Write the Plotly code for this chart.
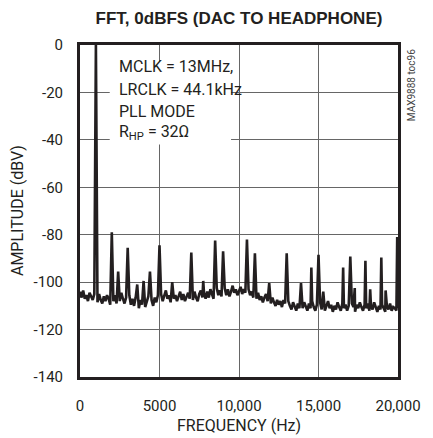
# FFT plot of DAC to headphone output, 0dBFS
import plotly.graph_objects as go

# noise floor, one value every 100 Hz from 0 to 20,000 Hz (dBV)
floor_step_hz = 100
floor_dbv = [
    -104, -106.5, -103.5, -107, -105.5, -108, -104.5, -106, -107.5, -105,
    -106, -108.5, -105, -107.5, -109, -106, -108, -105.5, -107, -109.5,
    -106, -108, -105.5, -109, -106.5, -108, -104.5, -107, -109, -106.5,
    -108, -105.5, -109.5, -107, -110, -106.5, -109, -111, -107.5, -109.5,
    -107, -110.5, -108, -106, -109.5, -107.5, -110, -106.5, -108.5, -105.5,
    -107, -105, -108, -106, -103.5, -107, -105.5, -108.5, -104.5, -107,
    -105.5, -108, -106, -104, -107.5, -105, -108, -106.5, -104.5, -107,
    -105, -107.5, -104, -106.5, -108, -105, -103.5, -106.5, -104.5, -107,
    -104, -106.5, -103, -105.5, -107, -104, -102.5, -105.5, -103.5, -106,
    -104.5, -102.5, -105.5, -103, -106, -104, -101.5, -104.5, -103, -105.5,
    -103.5, -102, -105, -103, -104.5, -106, -103, -105.5, -104, -106.5,
    -105, -107, -104.5, -107.5, -106, -108.5, -106.5, -105, -108, -107,
    -109, -106.5, -108.5, -110, -107.5, -109.5, -108, -110.5, -107.5, -109,
    -110.5, -108, -110, -111.5, -108.5, -110, -112, -109, -111, -109.5,
    -111, -108.5, -110.5, -112, -109, -111, -108, -110.5, -112, -109.5,
    -110.5, -108.5, -111.5, -109, -112, -110, -108, -111, -109.5, -112.5,
    -110, -111.5, -108.5, -110.5, -112, -109, -111, -109.5, -112, -110,
    -111.5, -109, -110.5, -112.5, -109.5, -111, -108.5, -110.5, -112, -109.5,
    -111, -109, -112, -110, -111.5, -108.5, -110.5, -112.5, -110, -111.5,
    -109.5, -111, -112.5, -110, -111.5, -109, -112, -110.5, -111, -112,
    -111,
]

# fundamental and spurs
peak_hz = [
    1000, 2000, 2400, 3000, 3600, 4000, 4400, 5000, 5800, 7000,
    7750, 8500, 9000, 10500, 11000, 11900, 13000, 13900, 14550, 15000,
    15300, 16550, 17000, 17280, 17950, 18250, 18950, 19220, 19950,
]
peak_dbv = [
    0, -79, -95.5, -85.5, -101, -99.5, -95.5, -84.5, -100, -87.5,
    -99.5, -82.5, -87, -82, -87.8, -100.4, -87.8, -100.4, -93.8, -88.5,
    -104, -93.8, -89.2, -102.5, -91, -103, -89.6, -103.5, -81,
]

x_ticks = [0, 5000, 10000, 15000, 20000]
x_tick_text = ["0", "5000", "10,000", "15,000", "20,000"]
y_ticks = [0, -20, -40, -60, -80, -100, -120, -140]

# merge floor and peaks into one spectrum
spectrum = {i * floor_step_hz: v for i, v in enumerate(floor_dbv)}
for f, v in zip(peak_hz, peak_dbv):
    spectrum[f] = v
freq = sorted(spectrum.keys())
amp = [spectrum[f] for f in freq]

FONT = "Roboto, Liberation Sans, sans-serif"
TITLE_FONT = "Liberation Sans, Arial, sans-serif"
INK = "#231f20"

fig = go.Figure()
fig.add_trace(
    go.Scatter(
        x=freq,
        y=amp,
        mode="lines",
        line=dict(color=INK, width=2.6),
        showlegend=False,
        hoverinfo="skip",
    )
)

# white box behind the conditions text
fig.add_shape(
    type="rect",
    x0=1870, x1=9500, y0=-7, y1=-42,
    xref="x", yref="y",
    fillcolor="white",
    line=dict(width=0),
    layer="above",
)

cond_lines = ["MCLK = 13MHz,", "LRCLK = 44.1kHz", "PLL MODE", "R<sub>HP</sub> = 32Ω"]
cond_y = [-9.1, -18.9, -28, -37]
for txt, yy in zip(cond_lines, cond_y):
    fig.add_annotation(
        x=2350, y=yy, xref="x", yref="y",
        text=txt, showarrow=False,
        xanchor="left", yanchor="middle",
        font=dict(family=FONT, size=16, color=INK),
    )

# axis titles and side label
fig.add_annotation(
    x=-0.198, y=0.5, xref="paper", yref="paper",
    text="AMPLITUDE (dBV)", textangle=-90, showarrow=False,
    xanchor="center", yanchor="middle",
    font=dict(family=FONT, size=16, color=INK),
)
fig.add_annotation(
    x=0.5, y=-0.145, xref="paper", yref="paper",
    text="FREQUENCY (Hz)", showarrow=False,
    xanchor="center", yanchor="middle",
    font=dict(family=FONT, size=16, color=INK),
)
fig.add_annotation(
    x=1.045, y=0.88, xref="paper", yref="paper",
    text="MAX9888 toc96", textangle=-90, showarrow=False,
    xanchor="center", yanchor="middle",
    font=dict(family=FONT, size=10, color="#444444"),
)

fig.update_xaxes(
    range=[0, 20000],
    tickvals=x_ticks,
    ticktext=x_tick_text,
    showgrid=True, gridcolor="#666666", gridwidth=1,
    zeroline=False,
    showline=True, mirror=True, linewidth=3, linecolor=INK,
    ticks="outside", ticklen=13, tickcolor="rgba(0,0,0,0)",
    ticklabeloverflow="allow",
    tickfont=dict(family=FONT, size=15, color=INK),
)
fig.update_yaxes(
    range=[-140, 0],
    tickvals=y_ticks,
    ticktext=[str(v) for v in y_ticks],
    showgrid=True, gridcolor="#666666", gridwidth=1,
    zeroline=False,
    showline=True, mirror=True, linewidth=3, linecolor=INK,
    ticks="outside", ticklen=11, tickcolor="rgba(0,0,0,0)",
    tickfont=dict(family=FONT, size=15, color=INK),
)

fig.update_layout(
    width=433,
    height=438,
    margin=dict(l=80, r=21, t=45, b=61),
    paper_bgcolor="white",
    plot_bgcolor="white",
    title=dict(
        text="<b>FFT, 0dBFS (DAC TO HEADPHONE)</b>",
        x=0.5, xref="paper", xanchor="center",
        y=1 - 18 / 438, yref="container", yanchor="middle",
        font=dict(family=TITLE_FONT, size=17, color=INK),
    ),
)

# page body has a default margin, drop it so the figure sits at 0,0
fig.write_html(
    "out.html",
    config={"displayModeBar": False},
    post_script="document.body.style.margin='0';",
)
